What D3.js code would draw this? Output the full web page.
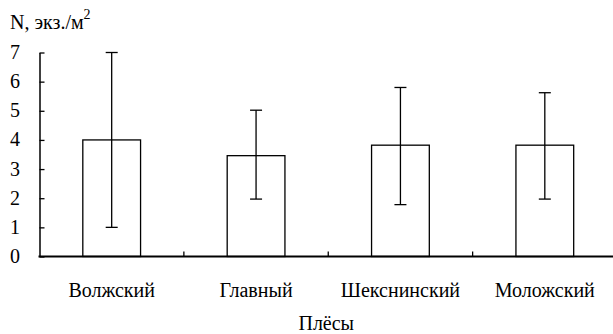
<!DOCTYPE html>
<html>
<head>
<meta charset="utf-8">
<script src="https://cdn.jsdelivr.net/npm/d3@7"></script>
<style>
body{margin:0;background:#fff;}
</style>
</head>
<body>
<svg id="chart" width="613" height="334"></svg>
<script>
const categories=["Волжский","Главный","Шекснинский","Моложский"];
const means=[4.0,3.46,3.82,3.82];
const lows=[1.0,1.97,1.78,1.97];
const highs=[7.0,5.02,5.8,5.62];
const yTicks=[0,1,2,3,4,5,6,7];

const FONT="'Liberation Serif'";
const FS=20;
const svg=d3.select("#chart");
const mLeft=39.5,mRight=617,mTop=52.5,mBottom=256.5;

const x=d3.scaleBand().domain(categories).range([mLeft,mRight]).paddingInner(0.6).paddingOuter(0.3);
const xb=d3.scaleBand().domain(categories).range([mLeft,mRight]);
const y=d3.scaleLinear().domain([0,7]).range([mBottom,mTop]);

/* bars */
svg.append("g").selectAll("rect").data(categories).enter().append("rect")
  .attr("x",d=>x(d)).attr("y",(d,i)=>y(means[i]))
  .attr("width",x.bandwidth()).attr("height",(d,i)=>y(0)-y(means[i]))
  .attr("fill","#fff").attr("stroke","#000").attr("stroke-width",1.3);

/* error bars */
const eb=svg.append("g").attr("stroke","#000").attr("stroke-width",1.3);
categories.forEach((c,i)=>{
  const cx=x(c)+x.bandwidth()/2;
  eb.append("line").attr("x1",cx).attr("x2",cx).attr("y1",y(lows[i])).attr("y2",y(highs[i]));
  eb.append("line").attr("x1",cx-6).attr("x2",cx+6).attr("y1",y(lows[i])).attr("y2",y(lows[i]));
  eb.append("line").attr("x1",cx-6).attr("x2",cx+6).attr("y1",y(highs[i])).attr("y2",y(highs[i]));
});

/* y axis */
const yAxis=svg.append("g").attr("transform",`translate(${mLeft},0)`)
  .call(d3.axisRight(y).tickValues(yTicks).tickSize(5).tickSizeOuter(0).tickFormat(""));
yAxis.select(".domain").attr("stroke-width",1.5);
yAxis.selectAll(".tick line").attr("stroke-width",1.3);
svg.append("g").selectAll("text").data(yTicks).enter().append("text")
  .attr("font-family",FONT).attr("font-size",FS)
  .attr("x",20).attr("y",d=>y(d)+6.5).attr("text-anchor","end").text(d=>d);

/* x axis */
svg.append("line").attr("x1",mLeft-1).attr("x2",mRight).attr("y1",mBottom).attr("y2",mBottom)
  .attr("stroke","#000").attr("stroke-width",2);
svg.append("g").selectAll("line").data(categories.slice(1)).enter().append("line")
  .attr("x1",d=>xb(d)).attr("x2",d=>xb(d)).attr("y1",mBottom).attr("y2",mBottom-5)
  .attr("stroke","#000").attr("stroke-width",1.3);
svg.append("g").selectAll("text").data(categories).enter().append("text")
  .attr("font-family",FONT).attr("font-size",FS)
  .attr("x",d=>xb(d)+xb.bandwidth()/2).attr("y",297).attr("text-anchor","middle").text(d=>d);

svg.append("text").attr("font-family",FONT).attr("font-size",FS)
  .attr("x",(mLeft+mRight)/2-2).attr("y",330).attr("text-anchor","middle").text("Плёсы");

const t=svg.append("text").attr("font-family",FONT).attr("font-size",FS).attr("x",10).attr("y",29);
t.append("tspan").text("N, экз./м");
t.append("tspan").attr("dy",-10).attr("font-size",14).text("2");
</script>
</body>
</html>
